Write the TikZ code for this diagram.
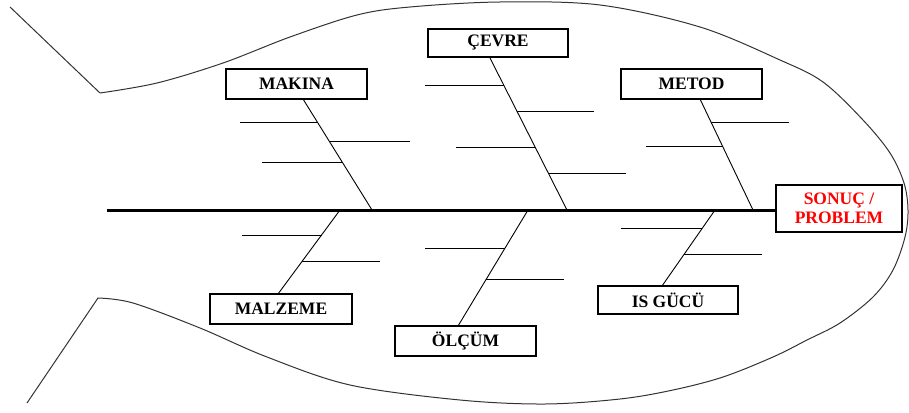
\documentclass[tikz,border=0pt]{standalone}
\usepackage{fontspec}
\setmainfont{Liberation Serif}
\usetikzlibrary{calc}

\tikzset{
  cause/.style={draw, line width=1.2pt, minimum width=141pt, minimum height=30pt,
    inner sep=0pt, font=\fontsize{17.5}{19}\selectfont\bfseries},
  effect/.style={draw, line width=1.2pt, minimum width=126pt, minimum height=47pt,
    inner sep=0pt, align=center, text=red, font=\fontsize{17.5}{19}\selectfont\bfseries},
  bone/.style={line width=0.9pt},
  rib/.style={line width=1pt},
  spine/.style={line width=3pt},
  outline/.style={line width=1pt, black!80}
}

\begin{document}
\begin{tikzpicture}[x=1pt, y=-1pt]
\useasboundingbox (0,0) rectangle (909,412);

% fish body and tail
\draw[outline] (10,7) -- (100,93)
  plot[smooth, tension=0.55] coordinates {(100,93) (157,83) (223,63) (290,37) (357,15)
    (410,7) (500,2) (600,5) (700,27) (780,60) (823,82) (863,120) (890,153) (904,183)
    (908,210) (905,237) (893,270) (873,297) (840,323) (807,340) (773,357) (723,377)
    (673,390) (620,399) (545,404) (460,400) (350,385) (267,357) (200,328)
    (133,303) (98,298)}
  -- (27,403);

% category boxes
\node[cause] (mak) at (296.5,84) {MAKINA};
\node[cause, minimum width=140pt, minimum height=28pt] (cev) at (498,43) {ÇEVRE};
\node[cause] (met) at (691.5,84) {METOD};
\node[cause, minimum width=142pt] (mal) at (281,309) {MALZEME};
\node[cause] (olc) at (465.5,341) {ÖLÇÜM};
\node[cause, minimum width=140pt, minimum height=28pt] (isg) at (668,300) {IS GÜCÜ};
\node[effect] (res) at (839,208.5) {SONUÇ /\\PROBLEM};

% spine
\coordinate (head) at (107,210);
\draw[spine] (head) -- (head -| res.west);

% bone end points
\coordinate (makT) at (303,99);  \coordinate (makB) at (372,210);
\coordinate (cevT) at (490,58);  \coordinate (cevB) at (567,210);
\coordinate (metT) at (700,99);  \coordinate (metB) at (753,210);
\coordinate (malT) at (340,210); \coordinate (malB) at (278,294);
\coordinate (olcT) at (528,210); \coordinate (olcB) at (458,326);
\coordinate (isgT) at (715,210); \coordinate (isgB) at (662,286);

% bones
\draw[bone] (makT) -- (makB);
\draw[bone] (cevT) -- (cevB);
\draw[bone] (metT) -- (metB);
\draw[bone] (malT) -- (malB);
\draw[bone] (olcT) -- (olcB);
\draw[bone] (isgT) -- (isgB);

% ribs
\draw[rib] ($(makT)!0.216!(makB)$) -- ++(-78,0);
\draw[rib] ($(makT)!0.387!(makB)$) -- ++(80,0);
\draw[rib] ($(makT)!0.568!(makB)$) -- ++(-80,0);

\draw[rib] ($(cevT)!0.178!(cevB)$) -- ++(-79,0);
\draw[rib] ($(cevT)!0.349!(cevB)$) -- ++(77,0);
\draw[rib] ($(cevT)!0.586!(cevB)$) -- ++(-79,0);
\draw[rib] ($(cevT)!0.757!(cevB)$) -- ++(78,0);

\draw[rib] ($(metT)!0.216!(metB)$) -- ++(78,0);
\draw[rib] ($(metT)!0.432!(metB)$) -- ++(-77,0);

\draw[rib] ($(malT)!0.298!(malB)$) -- ++(-80,0);
\draw[rib] ($(malT)!0.619!(malB)$) -- ++(78,0);

\draw[rib] ($(olcT)!0.328!(olcB)$) -- ++(-80,0);
\draw[rib] ($(olcT)!0.603!(olcB)$) -- ++(78,0);

\draw[rib] ($(isgT)!0.237!(isgB)$) -- ++(-81,0);
\draw[rib] ($(isgT)!0.579!(isgB)$) -- ++(78,0);
\end{tikzpicture}
\end{document}
